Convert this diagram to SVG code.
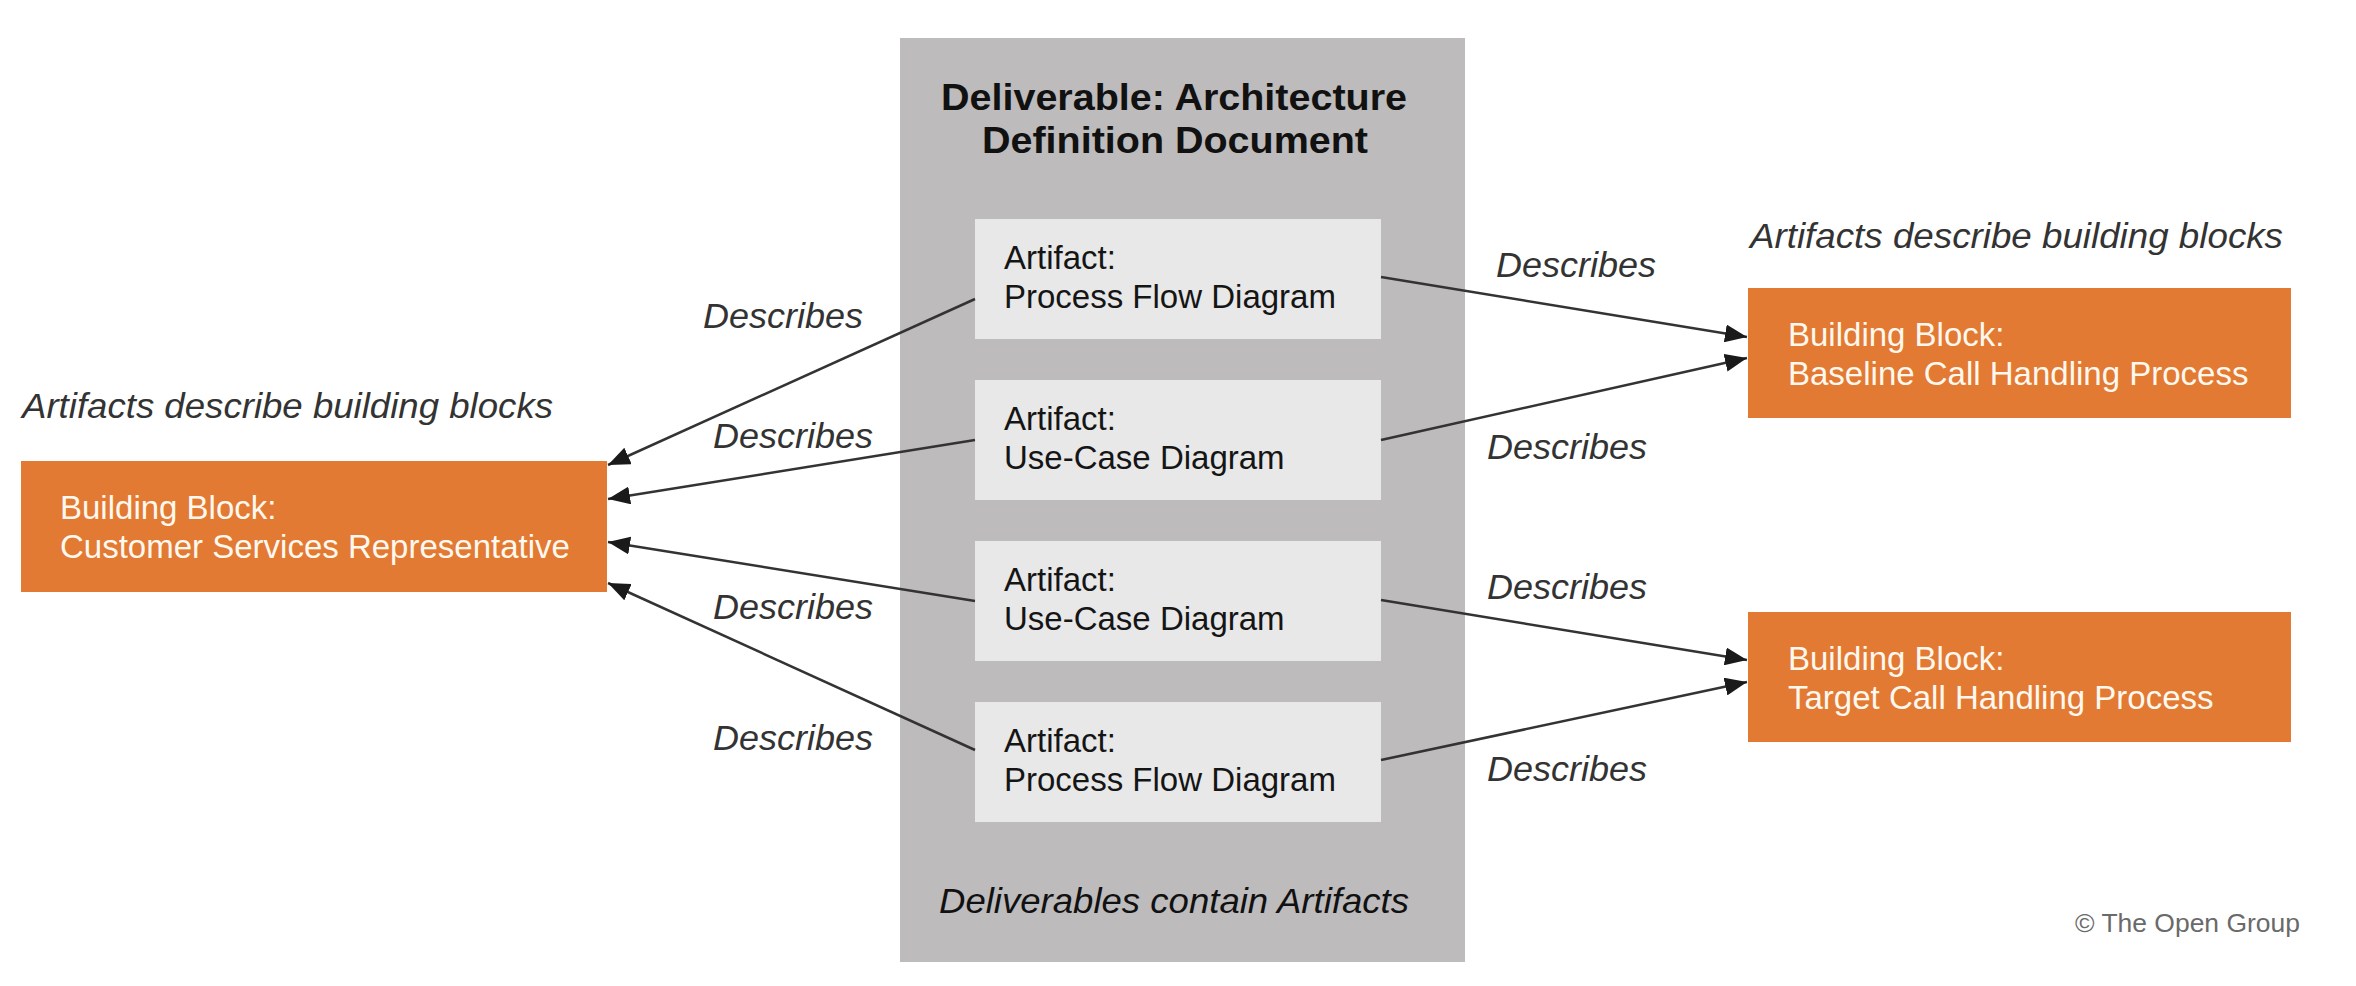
<svg xmlns="http://www.w3.org/2000/svg" width="2356" height="986" viewBox="0 0 2356 986">
<style>
.bg{fill:#FFFFFF}
.container{fill:#BDBBBC}
.artifact{fill:#E8E8E8}
.bb{fill:#E27A34}
.t{font-family:"Liberation Sans",Arial,Helvetica,sans-serif;font-size:33px;fill:#151515}
.tw{font-family:"Liberation Sans",Arial,Helvetica,sans-serif;font-size:33px;fill:#FFF8EE}
.title{font-family:"Liberation Sans",Arial,Helvetica,sans-serif;font-size:37px;font-weight:bold;fill:#111111;text-anchor:middle}
.it{font-family:"Liberation Sans",Arial,Helvetica,sans-serif;font-size:35px;font-style:italic;fill:#333333}
.itb{font-family:"Liberation Sans",Arial,Helvetica,sans-serif;font-size:35px;font-style:italic;fill:#111111}
.copy{font-family:"Liberation Sans",Arial,Helvetica,sans-serif;font-size:26px;fill:#6A6A6A}
.conn{stroke:#333333;stroke-width:2.5;fill:none;marker-end:url(#arrow)}
</style>
<defs>
<marker id="arrow" markerUnits="userSpaceOnUse" markerWidth="22" markerHeight="18" viewBox="0 0 22 18" refX="22" refY="9" orient="auto">
<path d="M0,0 L22,9 L0,18 Z" fill="#1A1A1A"/>
</marker>
</defs>
<rect class="bg" x="0" y="0" width="2356" height="986"/>

<g id="deliverable">
<rect class="container" x="900" y="38" width="565" height="924"/>
<text class="title" x="1174" y="110" textLength="466" lengthAdjust="spacingAndGlyphs">Deliverable: Architecture</text>
<text class="title" x="1175" y="153" textLength="386" lengthAdjust="spacingAndGlyphs">Definition Document</text>
<text class="itb" x="939" y="913" textLength="470" lengthAdjust="spacingAndGlyphs">Deliverables contain Artifacts</text>
</g>

<g id="artifact1">
<rect class="artifact" x="975" y="219" width="406" height="120"/>
<text class="t" x="1004" y="269">Artifact:</text>
<text class="t" x="1004" y="308">Process Flow Diagram</text>
</g>
<g id="artifact2">
<rect class="artifact" x="975" y="380" width="406" height="120"/>
<text class="t" x="1004" y="430">Artifact:</text>
<text class="t" x="1004" y="469">Use-Case Diagram</text>
</g>
<g id="artifact3">
<rect class="artifact" x="975" y="541" width="406" height="120"/>
<text class="t" x="1004" y="591">Artifact:</text>
<text class="t" x="1004" y="630">Use-Case Diagram</text>
</g>
<g id="artifact4">
<rect class="artifact" x="975" y="702" width="406" height="120"/>
<text class="t" x="1004" y="752">Artifact:</text>
<text class="t" x="1004" y="791">Process Flow Diagram</text>
</g>

<g id="bb-csr">
<text class="it" x="22" y="418" textLength="531" lengthAdjust="spacingAndGlyphs">Artifacts describe building blocks</text>
<rect class="bb" x="21" y="461" width="586" height="131"/>
<text class="tw" x="60" y="519">Building Block:</text>
<text class="tw" x="60" y="558">Customer Services Representative</text>
</g>

<g id="bb-baseline">
<text class="it" x="1750" y="248" textLength="533" lengthAdjust="spacingAndGlyphs">Artifacts describe building blocks</text>
<rect class="bb" x="1748" y="288" width="543" height="130"/>
<text class="tw" x="1788" y="346">Building Block:</text>
<text class="tw" x="1788" y="385">Baseline Call Handling Process</text>
</g>

<g id="bb-target">
<rect class="bb" x="1748" y="612" width="543" height="130"/>
<text class="tw" x="1788" y="670">Building Block:</text>
<text class="tw" x="1788" y="709">Target Call Handling Process</text>
</g>

<g id="connectors">
<line class="conn" x1="975" y1="299" x2="608" y2="465"/>
<line class="conn" x1="975" y1="440" x2="608" y2="499"/>
<line class="conn" x1="975" y1="601" x2="608" y2="542"/>
<line class="conn" x1="975" y1="750" x2="608" y2="583"/>
<line class="conn" x1="1381" y1="277" x2="1747" y2="337"/>
<line class="conn" x1="1381" y1="440" x2="1747" y2="358"/>
<line class="conn" x1="1381" y1="600" x2="1747" y2="660"/>
<line class="conn" x1="1381" y1="760" x2="1747" y2="682"/>
<g id="connector-labels">
<text class="it" x="703" y="328" textLength="160" lengthAdjust="spacingAndGlyphs">Describes</text>
<text class="it" x="713" y="448" textLength="160" lengthAdjust="spacingAndGlyphs">Describes</text>
<text class="it" x="713" y="619" textLength="160" lengthAdjust="spacingAndGlyphs">Describes</text>
<text class="it" x="713" y="750" textLength="160" lengthAdjust="spacingAndGlyphs">Describes</text>
<text class="it" x="1496" y="277" textLength="160" lengthAdjust="spacingAndGlyphs">Describes</text>
<text class="it" x="1487" y="459" textLength="160" lengthAdjust="spacingAndGlyphs">Describes</text>
<text class="it" x="1487" y="599" textLength="160" lengthAdjust="spacingAndGlyphs">Describes</text>
<text class="it" x="1487" y="781" textLength="160" lengthAdjust="spacingAndGlyphs">Describes</text>
</g>
</g>

<text id="copyright" class="copy" x="2075" y="932" textLength="225" lengthAdjust="spacingAndGlyphs">© The Open Group</text>
</svg>
